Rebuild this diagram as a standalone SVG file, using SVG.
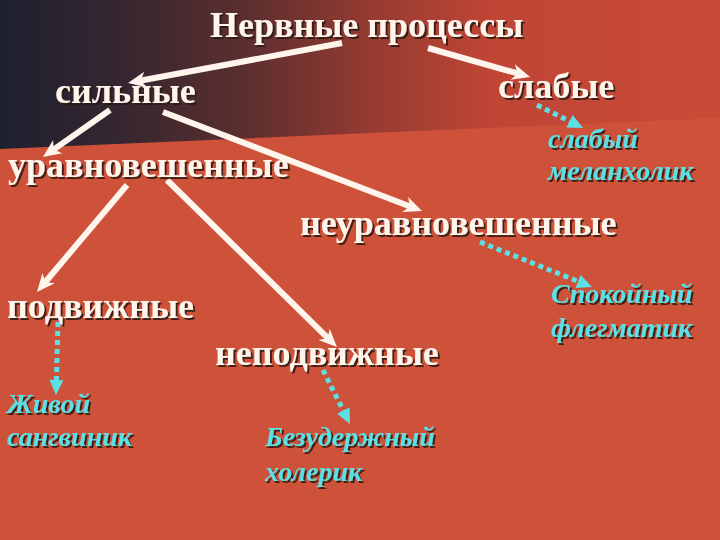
<svg xmlns="http://www.w3.org/2000/svg" width="720" height="540" viewBox="0 0 720 540">
<defs>
<linearGradient id="topGrad" x1="0" y1="0" x2="720" y2="0" gradientUnits="userSpaceOnUse">
<stop offset="0" stop-color="#1E2130"/>
<stop offset="0.17" stop-color="#362630"/>
<stop offset="0.35" stop-color="#5E2F2F"/>
<stop offset="0.52" stop-color="#973B31"/>
<stop offset="0.68" stop-color="#C04535"/>
<stop offset="1" stop-color="#C94B37"/>
</linearGradient>
<filter id="shadow" x="-10%" y="-30%" width="120%" height="160%">
<feDropShadow dx="2" dy="2" stdDeviation="0.6" flood-color="#2a120e" flood-opacity="0.85"/>
</filter>
<marker id="wArrow" viewBox="-8 -10 22 20" refX="0" refY="0" markerWidth="22" markerHeight="20" markerUnits="userSpaceOnUse" orient="auto">
<path d="M12,0 L-6,-8 L-1,0 L-6,8 Z" fill="#FFF5EC"/>
</marker>
<marker id="cArrow" viewBox="-2 -9 19 18" refX="0" refY="0" markerWidth="19" markerHeight="18" markerUnits="userSpaceOnUse" orient="auto">
<path d="M0,-7 L15,0 L0,7 Z" fill="#5CE0E6"/>
</marker>
<style>
.w{font-family:"Liberation Serif","Times New Roman",serif;font-weight:bold;font-size:36px;fill:#FFF5EC;filter:url(#shadow)}
.c{font-family:"Liberation Serif","Times New Roman",serif;font-weight:bold;font-style:italic;font-size:28px;fill:#5CE0E6;filter:url(#shadow)}
.wl{stroke:#FFF5EC;stroke-width:6;fill:none;marker-end:url(#wArrow)}
.cl{stroke:#5CE0E6;stroke-width:5;fill:none;stroke-dasharray:5 4;marker-end:url(#cArrow)}
</style>
</defs>
<rect x="0" y="0" width="720" height="540" fill="#CE5139"/>
<polygon points="0,0 720,0 720,118 0,149" fill="url(#topGrad)"/>

<g id="connectors">
<line class="wl" x1="342" y1="43" x2="139.8" y2="80.8"/>
<line class="wl" x1="428" y1="48" x2="518.5" y2="73.7"/>
<line class="wl" x1="110" y1="110" x2="52.8" y2="150.1"/>
<line class="wl" x1="163" y1="112" x2="410.8" y2="206.7"/>
<line class="wl" x1="127" y1="185" x2="44.7" y2="282.8"/>
<line class="wl" x1="167" y1="180" x2="328.4" y2="338.6"/>
<line class="cl" x1="537" y1="105" x2="569.6" y2="121.3"/>
<line class="cl" x1="480" y1="242" x2="578.1" y2="281.4"/>
<line class="cl" x1="58" y1="322" x2="56.4" y2="380"/>
<line class="cl" x1="323" y1="370" x2="343.3" y2="410.6"/>
</g>

<g id="root"><text class="w" x="210" y="37">Нервные процессы</text></g>
<g id="strong"><text class="w" x="55" y="103">сильные</text></g>
<g id="weak"><text class="w" x="498" y="98">слабые</text></g>
<g id="balanced"><text class="w" x="8" y="177">уравновешенные</text></g>
<g id="unbalanced"><text class="w" x="300" y="235">неуравновешенные</text></g>
<g id="mobile"><text class="w" x="7" y="318">подвижные</text></g>
<g id="immobile"><text class="w" x="215" y="365">неподвижные</text></g>
<g id="melancholic"><text class="c" x="548" y="148">слабый</text><text class="c" x="548" y="180">меланхолик</text></g>
<g id="phlegmatic"><text class="c" x="551" y="303">Спокойный</text><text class="c" x="551" y="337">флегматик</text></g>
<g id="sanguine"><text class="c" x="7" y="413">Живой</text><text class="c" x="7" y="446">сангвиник</text></g>
<g id="choleric"><text class="c" x="265" y="446">Безудержный</text><text class="c" x="265" y="481">холерик</text></g>
</svg>
